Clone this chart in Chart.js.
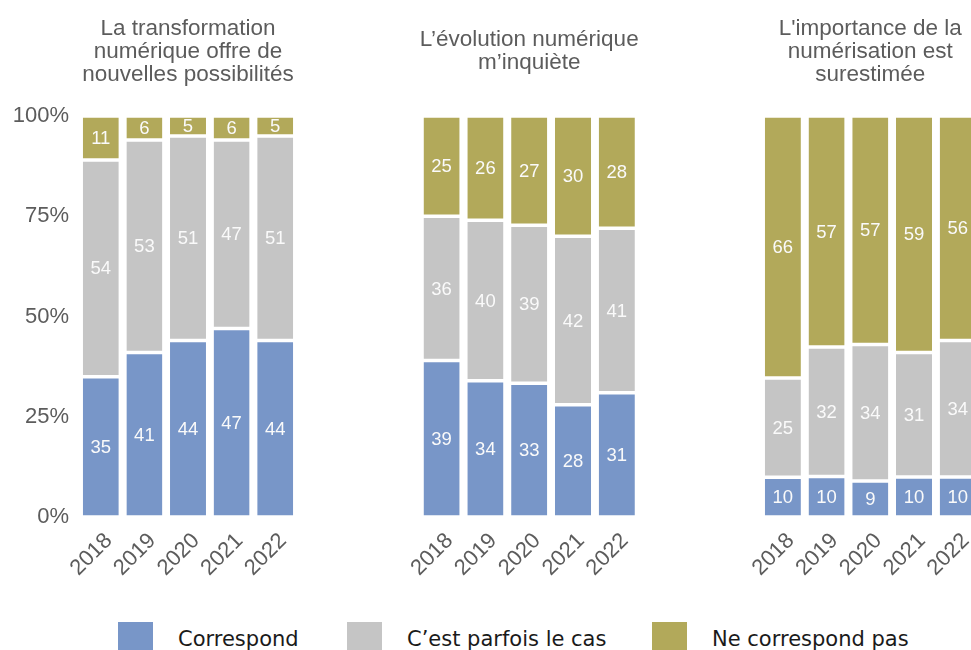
<!DOCTYPE html>
<html lang="fr">
<head>
<meta charset="UTF-8" />
<title>Numérisation</title>
<script src="https://cdn.jsdelivr.net/npm/chart.js"></script>
<style>
  body { margin: 0; width: 971px; height: 650px; overflow: hidden; background: #fff; position: relative; }
  canvas { position: absolute; top: 0; }
  .leg-box { position: absolute; top: 622px; width: 35px; height: 35px; }
  .leg-txt { position: absolute; top: 627px; font: 21px "DejaVu Sans", sans-serif; color: #1a1a1a; white-space: nowrap; }
</style>
</head>
<body>
<canvas id="panel1" width="340" height="600" style="left:0px"></canvas>
<canvas id="panel2" width="300" height="600" style="left:380px"></canvas>
<canvas id="panel3" width="300" height="600" style="left:720px"></canvas>
<div id="legend"></div>

<script>
// categories
const years = ["2018", "2019", "2020", "2021", "2022"];
const seriesNames = ["Correspond", "C\u2019est parfois le cas", "Ne correspond pas"];
const seriesColors = ["#7896c8", "#c5c5c5", "#b2a95a"];
const yTicks = [0, 25, 50, 75, 100];

// panel titles
const title1 = ["La transformation", "numérique offre de", "nouvelles possibilités"];
const title2 = ["L\u2019évolution numérique", "m\u2019inquiète"];
const title3 = ["L'importance de la", "numérisation est", "surestimée"];

// values (%)
const correspond1 = [35, 41, 44, 47, 44];
const parfois1 = [54, 53, 51, 47, 51];
const pas1 = [11, 6, 5, 6, 5];

const correspond2 = [39, 34, 33, 28, 31];
const parfois2 = [36, 40, 39, 42, 41];
const pas2 = [25, 26, 27, 30, 28];

const correspond3 = [10, 10, 9, 10, 10];
const parfois3 = [25, 32, 34, 31, 34];
const pas3 = [66, 57, 57, 59, 56];

// legend positions (layout only)
const legendLeft = [118, 347, 652];

const greyText = "#5c5c5c";
const sansFont = "'Liberation Sans', Arial, sans-serif";

// white value labels in the middle of each segment
const valueLabels = {
  id: "valueLabels",
  afterDatasetsDraw(chart) {
    const ctx = chart.ctx;
    ctx.save();
    ctx.font = "18.5px " + sansFont;
    ctx.fillStyle = "#fafafa";
    ctx.textAlign = "center";
    ctx.textBaseline = "middle";
    chart.data.datasets.forEach((ds, i) => {
      chart.getDatasetMeta(i).data.forEach((bar, j) => {
        ctx.fillText(String(ds.raw[j]), bar.x, (bar.y + bar.base) / 2 + 1);
      });
    });
    ctx.restore();
  },
};

// panel title centred over the plot area, block centred at y=51.5
const panelTitle = {
  id: "panelTitle",
  afterDraw(chart, args, opts) {
    const ctx = chart.ctx;
    const a = chart.chartArea;
    const cx = (a.left + a.right) / 2;
    const n = opts.lines.length;
    ctx.save();
    ctx.font = "22.5px " + sansFont;
    ctx.fillStyle = greyText;
    ctx.textAlign = "center";
    ctx.textBaseline = "middle";
    opts.lines.forEach((line, i) => {
      ctx.fillText(line, cx, 51.5 + (i - (n - 1) / 2) * 23);
    });
    ctx.restore();
  },
};

function makePanel(id, title, series, showY, padLeft, padRight) {
  const totals = years.map((y, j) => series.reduce((s, arr) => s + arr[j], 0));
  const datasets = series.map((arr, i) => ({
    label: seriesNames[i],
    raw: arr,
    data: arr.map((v, j) => (v / totals[j]) * 100),
    backgroundColor: seriesColors[i],
    borderColor: "#ffffff",
    borderWidth: { top: 1.75, bottom: 1.75, left: 0, right: 0 },
    borderSkipped: false,
    barPercentage: 0.825,
    categoryPercentage: 1,
  }));
  return new Chart(document.getElementById(id), {
    type: "bar",
    data: { labels: years, datasets: datasets },
    plugins: [valueLabels, panelTitle],
    options: {
      responsive: false,
      animation: false,
      layout: { padding: { left: padLeft, right: padRight, top: 116, bottom: 0 } },
      plugins: {
        legend: { display: false },
        tooltip: { enabled: false },
        title: { display: false },
        panelTitle: { lines: title },
      },
      scales: {
        x: {
          stacked: true,
          grid: { display: false, drawTicks: false },
          border: { display: false },
          afterFit: (s) => {
            s.height = 83;
            s.paddingLeft = 0;
            s.paddingRight = 0;
          },
          ticks: {
            autoSkip: false,
            minRotation: 45,
            maxRotation: 45,
            labelOffset: 8,
            padding: 11,
            color: greyText,
            font: { family: sansFont, size: 22 },
          },
        },
        y: {
          stacked: true,
          display: showY,
          min: 0,
          max: 100,
          afterFit: (s) => { if (showY) s.width = 79; },
          afterBuildTicks: (s) => { s.ticks = yTicks.map((v) => ({ value: v })); },
          grid: { display: false, drawTicks: false },
          border: { display: false },
          ticks: {
            padding: 10,
            color: greyText,
            font: { family: sansFont, size: 22 },
            callback: (v) => v + "%",
          },
        },
      },
    },
  });
}

// plot areas: 79-297, 419.7-638.7, 761-979.6
makePanel("panel1", title1, [correspond1, parfois1, pas1], true, 0, 43);
makePanel("panel2", title2, [correspond2, parfois2, pas2], false, 39.7, 41.3);
makePanel("panel3", title3, [correspond3, parfois3, pas3], false, 41, 40.4);

// legend
const legend = document.getElementById("legend");
seriesNames.forEach((name, i) => {
  const box = document.createElement("div");
  box.className = "leg-box";
  box.style.left = legendLeft[i] + "px";
  box.style.background = seriesColors[i];
  legend.appendChild(box);
  const txt = document.createElement("div");
  txt.className = "leg-txt";
  txt.style.left = legendLeft[i] + 60 + "px";
  txt.textContent = name;
  legend.appendChild(txt);
});
</script>
</body>
</html>
